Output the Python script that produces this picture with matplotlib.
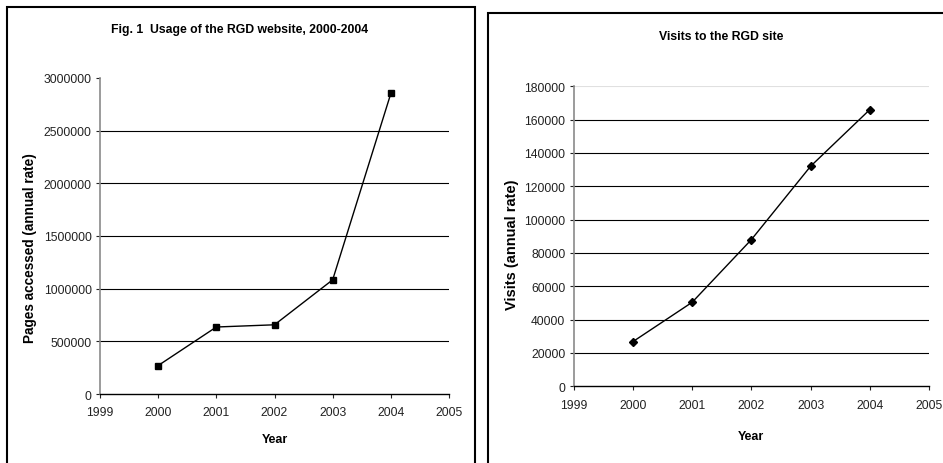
import matplotlib
matplotlib.use("Agg")
from matplotlib import pyplot as plt
from matplotlib.patches import Rectangle
from matplotlib.ticker import MultipleLocator

plt.rcParams["font.family"] = ["Liberation Sans", "DejaVu Sans"]

years = [2000, 2001, 2002, 2003, 2004]
pages_accessed = [270000, 636000, 657000, 1084000, 2853000]
visits = [26800, 50400, 88000, 132000, 166000]

W, H = 943, 464


def fig_rect(left, top, right, bottom):
    # pixel box -> figure fraction [x0, y0, w, h]
    return [left / W, 1 - bottom / H, (right - left) / W, (bottom - top) / H]


def _style_axis(axis, ymax, ystep, top_grid_color):
    axis.set_xlim(1999, 2005)
    axis.set_ylim(0, ymax)
    axis.xaxis.set_major_locator(MultipleLocator(1))
    axis.yaxis.set_major_locator(MultipleLocator(ystep))
    axis.ticklabel_format(useOffset=False, style="plain")
    axis.spines["top"].set_visible(False)
    axis.spines["right"].set_visible(False)
    axis.spines["left"].set_color("#8a8a8a")
    axis.spines["left"].set_linewidth(1.2)
    axis.spines["bottom"].set_color("black")
    axis.spines["bottom"].set_linewidth(1.0)
    axis.tick_params(axis="both", labelsize=8.7, colors="#222222", length=3,
                     width=0.8, direction="out", pad=3)
    axis.tick_params(axis="x", pad=6)
    axis.set_axisbelow(True)
    # horizontal grid, the top one is faint or missing
    for value in axis.get_yticks():
        if 0 < value < ymax:
            axis.axhline(value, color="black", linewidth=0.8, zorder=0)
        elif value == ymax and top_grid_color is not None:
            axis.axhline(value, color=top_grid_color, linewidth=0.8, zorder=0)


fig = plt.figure(figsize=(W / 100, H / 100), dpi=100)

# panel frames
fig.patches.append(Rectangle((7 / W, -0.05), (475 - 7) / W, 1.05 - 8 / H,
                             transform=fig.transFigure, fill=False,
                             edgecolor="black", linewidth=1.5))
fig.patches.append(Rectangle((488 / W, -0.05), 0.6, 1.05 - 14 / H,
                             transform=fig.transFigure, fill=False,
                             edgecolor="black", linewidth=1.5))

# left: pages accessed
ax1 = fig.add_axes(fig_rect(100, 79, 449, 395))
ax1.plot(years, pages_accessed, color="black", linewidth=1.0,
         marker="s", markersize=4.5, clip_on=False)
_style_axis(ax1, 3000000, 500000, None)
fig.text(240 / W, 1 - 30 / H, "Fig. 1  Usage of the RGD website, 2000-2004",
         ha="center", va="center", fontsize=8.8, fontweight="bold")
fig.text(30 / W, 1 - 248 / H, "Pages accessed (annual rate)", rotation=90,
         ha="center", va="center", fontsize=9.8, fontweight="bold")
fig.text(275 / W, 1 - 440 / H, "Year", ha="center", va="center",
         fontsize=9, fontweight="bold")

# right: visits
ax2 = fig.add_axes(fig_rect(573.7, 87.3, 929, 387.3))
ax2.plot(years, visits, color="black", linewidth=1.0,
         marker="D", markersize=4.5, clip_on=False)
_style_axis(ax2, 180000, 20000, "#e0e0e0")
fig.text(721 / W, 1 - 37 / H, "Visits to the RGD site", ha="center",
         va="center", fontsize=8.8, fontweight="bold")
fig.text(512 / W, 1 - 245 / H, "Visits (annual rate)", rotation=90,
         ha="center", va="center", fontsize=10.5, fontweight="bold")
fig.text(751 / W, 1 - 437 / H, "Year", ha="center", va="center",
         fontsize=9, fontweight="bold")

fig.savefig("out.png", dpi=100)
